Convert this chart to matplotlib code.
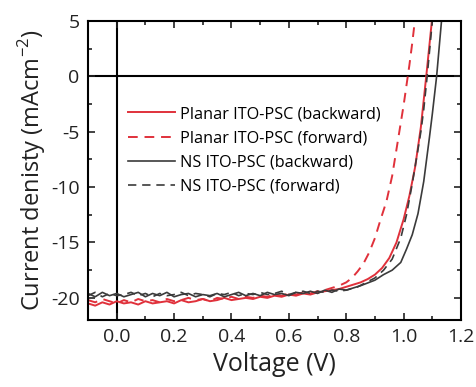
import numpy as np
import matplotlib
matplotlib.use('Agg')
import matplotlib.pyplot as plt
from matplotlib.ticker import MultipleLocator

plt.rcParams['font.family'] = ['Open Sans', 'DejaVu Sans']
plt.rcParams['mathtext.fontset'] = 'custom'
plt.rcParams['mathtext.rm'] = 'Open Sans'
plt.rcParams['axes.unicode_minus'] = False

# flat region, shared voltage grid (-0.1 .. 0.8, step 0.025)
v_flat = [-0.1 + 0.025 * i for i in range(37)]

# Planar ITO-PSC (backward)
pb_flat = [-20.5, -20.7, -20.4, -20.6, -20.3, -20.5, -20.4, -20.6, -20.3, -20.5,
           -20.4, -20.3, -20.5, -20.2, -20.4, -20.3, -20.1, -20.3, -20.2, -20.0,
           -20.2, -20.1, -20.0, -20.1, -19.9, -20.0, -19.8, -19.9, -19.7, -19.8,
           -19.6, -19.7, -19.5, -19.4, -19.3, -19.2, -19.0]
pb_v = [0.825, 0.85, 0.875, 0.9, 0.925, 0.95, 0.975, 1.0, 1.02, 1.04, 1.06, 1.08, 1.1]
pb_j = [-18.8, -18.6, -18.3, -17.9, -17.3, -16.4, -15.0, -12.9, -10.8, -8.2, -4.6, 0.3, 5.4]

# Planar ITO-PSC (forward)
pf_flat = [-20.2, -20.4, -20.1, -20.3, -20.5, -20.2, -20.4, -20.1, -20.3, -20.2,
           -20.4, -20.1, -20.3, -20.2, -20.0, -20.2, -20.1, -20.3, -20.0, -20.1,
           -19.9, -20.1, -19.9, -20.0, -19.8, -19.9, -19.7, -19.8, -19.6, -19.7,
           -19.5, -19.6, -19.4, -19.3, -19.1, -18.9, -18.6]
pf_v = [0.82, 0.84, 0.86, 0.88, 0.9, 0.92, 0.94, 0.96, 0.98, 1.0, 1.01, 1.02, 1.03, 1.04]
pf_j = [-18.2, -17.6, -16.9, -15.9, -14.6, -12.9, -11.3, -9.0, -5.8, -2.6, -0.8, 1.0, 3.0, 5.2]

# NS ITO-PSC (backward)
nb_flat = [-19.6, -19.9, -19.5, -19.8, -19.6, -19.9, -19.7, -19.5, -19.9, -19.6,
           -19.8, -19.5, -19.9, -19.7, -19.6, -19.9, -19.7, -19.8, -19.6, -19.9,
           -19.7, -19.5, -19.8, -19.6, -19.8, -19.5, -19.7, -19.6, -19.8, -19.5,
           -19.6, -19.4, -19.6, -19.3, -19.5, -19.2, -19.3]
nb_v = [0.85, 0.9, 0.93, 0.96, 0.99, 1.01, 1.03, 1.05, 1.07, 1.09, 1.1, 1.115, 1.132]
nb_j = [-18.9, -18.4, -17.9, -17.5, -16.8, -15.6, -14.3, -12.4, -9.5, -5.5, -3.4, 0.0, 5.0]

# NS ITO-PSC (forward)
nf_flat = [-19.8, -19.5, -19.9, -19.6, -19.8, -19.7, -19.5, -19.8, -19.6, -19.9,
           -19.6, -19.8, -19.7, -19.5, -19.8, -19.6, -19.7, -19.9, -19.6, -19.7,
           -19.5, -19.8, -19.6, -19.7, -19.5, -19.7, -19.6, -19.4, -19.7, -19.5,
           -19.4, -19.6, -19.4, -19.5, -19.3, -19.4, -19.3]
nf_v = [0.84, 0.87, 0.9, 0.93, 0.96, 0.99, 1.01, 1.03, 1.05, 1.06, 1.07, 1.082, 1.1]
nf_j = [-19.0, -18.6, -18.2, -17.5, -16.5, -14.6, -12.5, -9.7, -6.6, -5.0, -3.0, 0.0, 5.0]

red = '#e0313b'
gray = '#3b3b3b'

fig = plt.figure(figsize=(4.77, 3.87), dpi=100)
ax = fig.add_axes([0.1845, 0.173, 0.782, 0.773])

ax.axhline(0, color='black', lw=1.5, zorder=1)
ax.axvline(0, color='black', lw=1.5, zorder=1)

ax.plot(v_flat + pb_v, pb_flat + pb_j, color=red, lw=1.4,
        label='Planar ITO-PSC (backward)')
ax.plot(v_flat + pf_v, pf_flat + pf_j, color=red, lw=1.4, ls=(0, (5, 3.5)),
        label='Planar ITO-PSC (forward)')
ax.plot(v_flat + nb_v, nb_flat + nb_j, color=gray, lw=1.2,
        label='NS ITO-PSC (backward)')
ax.plot(v_flat + nf_v, nf_flat + nf_j, color=gray, lw=1.2, ls=(0, (5, 3.5)),
        label='NS ITO-PSC (forward)')

ax.set_xlim(-0.1, 1.2)
ax.set_ylim(-22, 5)
ax.xaxis.set_major_locator(MultipleLocator(0.2))
ax.xaxis.set_minor_locator(MultipleLocator(0.1))
ax.yaxis.set_major_locator(MultipleLocator(5))
ax.yaxis.set_minor_locator(MultipleLocator(2.5))
ax.tick_params(which='both', direction='in', top=True, right=True, width=1.2,
               labelsize=14, pad=6, colors='#222222')
ax.tick_params(which='major', length=5)
ax.tick_params(which='minor', length=3)
ax.xaxis.set_major_formatter(matplotlib.ticker.FormatStrFormatter('%.1f'))
for s in ax.spines.values():
    s.set_linewidth(1.5)

ax.set_xlabel('Voltage (V)', fontsize=18, color='#222222')
ax.set_ylabel('Current denisty (mAcm$^{-2}$)', fontsize=17, color='#222222', labelpad=2)

ax.legend(loc='upper left', bbox_to_anchor=(0.107, 0.715), frameon=False,
          fontsize=11.7, handlelength=2.9, handletextpad=0.3, labelspacing=0.5,
          borderpad=0, borderaxespad=0)

fig.savefig('out.png', dpi=100)
